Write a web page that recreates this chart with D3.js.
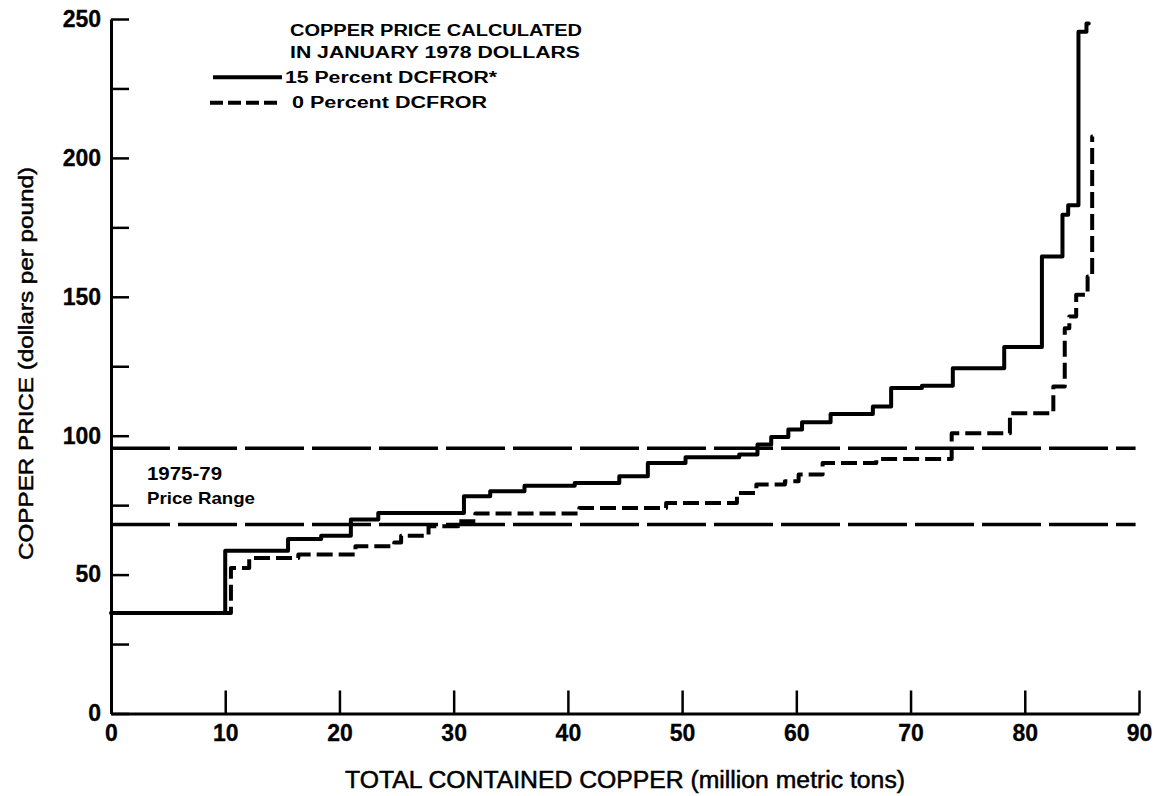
<!DOCTYPE html>
<html>
<head>
<meta charset="utf-8">
<script src="https://cdn.jsdelivr.net/npm/d3@7"></script>
<style>
  html, body { margin: 0; padding: 0; background: #fff; }
  svg { display: block; }
  text { font-family: "Liberation Sans", Arial, Helvetica, sans-serif; fill: #000; }
</style>
</head>
<body>
<svg id="chart" width="1156" height="796"></svg>
<script>
// ---- data ----
const xTicks = [0, 10, 20, 30, 40, 50, 60, 70, 80, 90];
const yMajorTicks = [0, 50, 100, 150, 200, 250];
const yMinorTicks = [25, 75, 125, 175, 225];

// 15 Percent DCFROR: start of each step (million metric tons) and price level
const solidTons  = [0, 10.0, 15.5, 18.4, 21.0, 23.4, 30.9, 33.2, 36.2, 40.6, 44.5, 47.0, 50.3, 55.0, 56.6, 57.8, 59.3, 60.5, 63.0, 66.7, 68.3, 71.0, 73.7, 78.2, 81.5, 83.3, 83.8, 84.7, 85.4, 85.6];
const solidPrice = [36.2, 58.6, 62.8, 64.0, 69.8, 72.2, 78.2, 80.0, 82.0, 83.0, 85.4, 90.2, 92.2, 93.2, 96.8, 99.5, 102.2, 104.8, 107.8, 110.5, 117.2, 118.0, 124.3, 131.9, 164.5, 179.5, 183.0, 245.4, 248.4, 248.4];

// 0 Percent DCFROR
const dashedTons  = [0, 10.5, 12.1, 16.4, 21.4, 24.8, 25.4, 27.8, 30.4, 31.9, 41.0, 48.6, 54.8, 56.5, 59.0, 60.2, 62.3, 67.0, 73.6, 78.7, 82.5, 83.5, 83.9, 84.5, 85.5, 85.9, 85.95];
const dashedPrice = [36.2, 52.4, 56.0, 57.2, 60.2, 61.6, 64.0, 67.4, 69.2, 72.0, 74.0, 75.8, 79.4, 82.4, 83.6, 86.0, 90.2, 91.6, 100.9, 108.1, 117.7, 138.7, 142.9, 150.7, 157.3, 207.7, 207.7];

// 1975-79 price range bounds
const priceRange = [68, 95.5];
const priceRangeExtent = [0, 89.7];

// ---- drawing ----
const svg = d3.select("#chart");
const x = d3.scaleLinear().domain([0, 90]).range([111, 1139]);
const y = d3.scaleLinear().domain([0, 250]).range([713.5, 19]);

// price-range long-dash lines
svg.append("g").selectAll("line").data(priceRange).join("line")
  .attr("x1", x(priceRangeExtent[0])).attr("x2", x(priceRangeExtent[1]))
  .attr("y1", d => y(d)).attr("y2", d => y(d))
  .attr("stroke", "#000").attr("stroke-width", 3.5)
  .attr("stroke-dasharray", "59,8");

// Y axis
const yAxis = d3.axisLeft(y)
  .tickValues(yMajorTicks.concat(yMinorTicks))
  .tickSize(-18).tickSizeOuter(0).tickPadding(10)
  .tickFormat(d => yMajorTicks.includes(d) ? d : "");
const gy = svg.append("g").attr("transform", `translate(${x(0)},0)`).call(yAxis);

// X axis
const xAxis = d3.axisBottom(x)
  .tickValues(xTicks)
  .tickSize(-23).tickSizeOuter(0).tickPadding(11);
const gx = svg.append("g").attr("transform", `translate(0,${y(0)})`).call(xAxis);

[gx, gy].forEach(g => {
  g.select(".domain").attr("stroke", "#000").attr("stroke-width", 3);
  g.selectAll(".tick line").attr("stroke", "#000").attr("stroke-width", 2.5);
  g.selectAll(".tick text")
    .attr("font-size", 23).attr("font-weight", "bold")
    .attr("font-family", "'Liberation Sans', Arial, sans-serif").attr("fill", "#000")
    .attr("stroke", "#000").attr("stroke-width", 0.3);
});
gx.selectAll(".tick").filter(d => d === 0).select("line").remove();

// step curves
const line = d3.line().curve(d3.curveStepAfter).x(d => x(d[0])).y(d => y(d[1]));
const solidPts = solidTons.map((t, i) => [t, solidPrice[i]]);
const dashedPts = dashedTons.map((t, i) => [t, dashedPrice[i]]);

svg.append("path").datum(dashedPts).attr("d", line)
  .attr("fill", "none").attr("stroke", "#000").attr("stroke-width", 4)
  .attr("stroke-dasharray", "16,6").attr("stroke-linejoin", "round");

svg.append("path").datum(solidPts).attr("d", line)
  .attr("fill", "none").attr("stroke", "#000").attr("stroke-width", 4)
  .attr("stroke-linejoin", "round").attr("stroke-linecap", "round");

// legend
const leg = svg.append("g");
leg.append("text").attr("x", 290).attr("y", 36).attr("font-size", 16).attr("font-weight", "bold")
  .attr("textLength", 292).attr("lengthAdjust", "spacingAndGlyphs").text("COPPER PRICE CALCULATED");
leg.append("text").attr("x", 290).attr("y", 58.3).attr("font-size", 16).attr("font-weight", "bold")
  .attr("textLength", 290).attr("lengthAdjust", "spacingAndGlyphs").text("IN JANUARY 1978 DOLLARS");
leg.append("line").attr("x1", 213).attr("x2", 282).attr("y1", 77.3).attr("y2", 77.3)
  .attr("stroke", "#000").attr("stroke-width", 4);
leg.append("text").attr("x", 285).attr("y", 83.3).attr("font-size", 16).attr("font-weight", "bold")
  .attr("textLength", 212).attr("lengthAdjust", "spacingAndGlyphs").text("15 Percent DCFROR*");
leg.append("line").attr("x1", 210).attr("x2", 281).attr("y1", 102.7).attr("y2", 102.7)
  .attr("stroke", "#000").attr("stroke-width", 4).attr("stroke-dasharray", "13,5");
leg.append("text").attr("x", 292).attr("y", 108.3).attr("font-size", 16).attr("font-weight", "bold")
  .attr("textLength", 195).attr("lengthAdjust", "spacingAndGlyphs").text("0 Percent DCFROR");

// price range annotation
svg.append("text").attr("x", 147).attr("y", 480).attr("font-size", 18).attr("font-weight", "bold")
  .attr("textLength", 75).attr("lengthAdjust", "spacingAndGlyphs").text("1975-79");
svg.append("text").attr("x", 147).attr("y", 504).attr("font-size", 17).attr("font-weight", "bold")
  .attr("textLength", 108).attr("lengthAdjust", "spacingAndGlyphs").text("Price Range");

// axis titles
svg.append("text").attr("transform", "translate(33,363.5) rotate(-90)")
  .attr("text-anchor", "middle").attr("font-size", 21)
  .attr("stroke", "#000").attr("stroke-width", 0.5)
  .attr("textLength", 393).attr("lengthAdjust", "spacingAndGlyphs")
  .text("COPPER PRICE (dollars per pound)");
svg.append("text").attr("x", 625).attr("y", 788)
  .attr("text-anchor", "middle").attr("font-size", 23)
  .attr("stroke", "#000").attr("stroke-width", 0.5)
  .attr("textLength", 560).attr("lengthAdjust", "spacingAndGlyphs")
  .text("TOTAL CONTAINED COPPER (million metric tons)");
</script>
</body>
</html>
